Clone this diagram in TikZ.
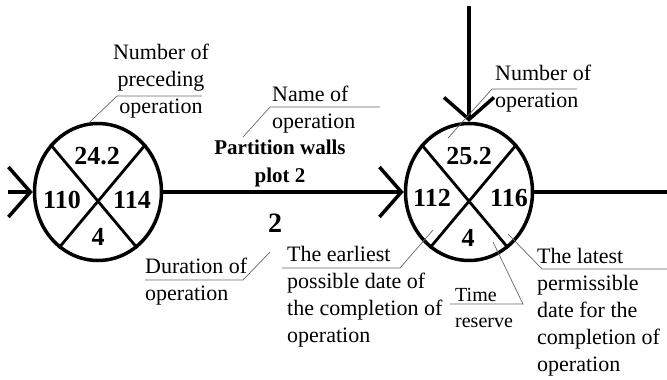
\documentclass[tikz,border=0pt]{standalone}
\usepackage{fontspec}
\setmainfont{Liberation Serif}
\usetikzlibrary{arrows.meta,shapes.geometric}

\begin{document}
\begin{tikzpicture}[x=1pt,y=-1pt,
    event/.style={draw, ellipse, line width=3.5pt, minimum width=127pt, minimum height=137pt, inner sep=0pt},
    work/.style={line width=3.5pt, -{Straight Barb[length=22pt,width=50pt]}},
    cross/.style={line width=2.8pt},
    leader/.style={black!60, line width=0.7pt},
    num/.style={font=\fontsize{26}{26}\selectfont\bfseries, inner sep=0pt},
    note/.style={font=\fontsize{22}{27}\selectfont, align=left, inner sep=0pt, anchor=base west}]

	\useasboundingbox (0,0) rectangle (667,380);

	% events
	\node[event] (prev) at (98,192) {};
	\node[event] (curr) at (469,192) {};
	\draw[cross] (prev.135) -- (prev.-55);
	\draw[cross] (prev.45) -- (prev.-125);
	\draw[cross] (curr.135) -- (curr.-55);
	\draw[cross] (curr.45) -- (curr.-125);

	\node[num] (prevnum) at (97,156) {24.2};
	\node[num] (prevearly) at (62,200) {110};
	\node[num] (prevlate) at (132,200) {114};
	\node[num] (prevres) at (98,237) {4};
	\node[num] (currnum) at (469,156) {25.2};
	\node[num] (currearly) at (432,198) {112};
	\node[num] (currlate) at (509,198) {116};
	\node[num] (currres) at (468,238) {4};

	% works
	\coordinate (in) at (8,192);
	\coordinate (out) at (667,192);
	\coordinate (top) at (469,6);
	\draw[work] (in) -- (prev.west);
	\draw[work] (prev.east) -- (curr.west);
	\draw[work] (top) -- (curr.north);
	\draw[line width=3.5pt] (curr.east) -- (out);

	\node[font=\fontsize{21}{28}\selectfont\bfseries, align=center, inner sep=0pt, anchor=base] (walls) at (280,182) {Partition walls\\plot 2};
	\node[font=\fontsize{28}{28}\selectfont\bfseries, inner sep=0pt] (dur) at (275,223) {2};

	% captions (anchor is on the last line)
	\node[note, align=center, anchor=base] (precnote) at (161,113) {Number of\\preceding\\operation};
	\node[note] (namenote) at (272,128) {Name of\\operation};
	\node[note] (durnote) at (145,300) {Duration of\\operation};
	\node[note] (earlynote) at (287,342) {The earliest\\possible date of\\the completion of\\operation};
	\node[note, font=\fontsize{20}{26}\selectfont] (resnote) at (455,327) {Time\\reserve};
	\node[note] (latenote) at (537,371) {The latest\\permissible\\date for the\\completion of\\operation};
	\node[note] (opnote) at (495,107) {Number of\\operation};

	% leaders
	\coordinate (p1) at (202,96);
	\coordinate (p0) at (117,96);
	\draw[leader] (p1) -- (p0) -- (prev.97);
	\coordinate (n1) at (380,107);
	\coordinate (n0) at (270,107);
	\coordinate (nw) at (243,137);
	\draw[leader] (n1) -- (n0) -- (nw);
	\coordinate (d0) at (145,280);
	\coordinate (d1) at (243,280);
	\coordinate (dw) at (270,252);
	\draw[leader] (d0) -- (d1) -- (dw);
	\coordinate (e0) at (282,268);
	\coordinate (e1) at (400,268);
	\coordinate (ew) at (433,230);
	\draw[leader] (e0) -- (e1) -- (ew);
	\coordinate (r0) at (450,304);
	\coordinate (r1) at (523,304);
	\coordinate (rw) at (493,242);
	\draw[leader] (r0) -- (r1) -- (rw);
	\coordinate (l1) at (667,269);
	\coordinate (l0) at (542,269);
	\coordinate (lw) at (508,234);
	\draw[leader] (l1) -- (l0) -- (lw);
	\coordinate (o1) at (577,89);
	\coordinate (o0) at (492,89);
	\coordinate (ow) at (448,138);
	\draw[leader] (o1) -- (o0) -- (ow);
\end{tikzpicture}
\end{document}
